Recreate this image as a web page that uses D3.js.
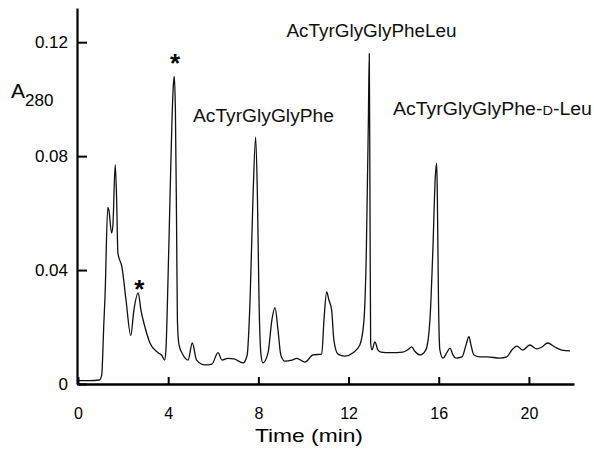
<!DOCTYPE html>
<html>
<head>
<meta charset="utf-8">
<script src="https://cdn.jsdelivr.net/npm/d3@7"></script>
<style>
  html, body { margin: 0; padding: 0; background: #fff; }
  svg { display: block; font-family: "Liberation Sans", Arial, Helvetica, sans-serif; }
</style>
</head>
<body>
<svg id="chart" width="594" height="451"></svg>
<script>
// ---- data ----
const timeMin = [0, 0.5, 0.95, 1.05, 1.15, 1.2, 1.32, 1.37, 1.49, 1.55, 1.65, 1.71, 1.77, 1.95, 2.13, 2.34, 2.48, 2.67, 2.79, 2.97, 3.19, 3.55, 3.72, 3.84, 3.9, 3.99, 4.08, 4.17, 4.23, 4.27, 4.32, 4.37, 4.41, 4.48, 4.66, 4.88, 5.07, 5.26, 5.63, 5.94, 6.21, 6.39, 6.65, 6.92, 7.32, 7.5, 7.63, 7.76, 7.88, 7.96, 8.03, 8.12, 8.2, 8.43, 8.6, 8.74, 8.87, 9.0, 9.18, 9.49, 9.7, 10.07, 10.42, 10.81, 10.91, 11.03, 11.13, 11.25, 11.35, 11.53, 11.84, 12.2, 12.5, 12.68, 12.79, 12.88, 12.92, 12.95, 12.98, 13.04, 13.17, 13.3, 13.44, 13.84, 14.41, 14.63, 14.8, 14.94, 15.17, 15.43, 15.61, 15.74, 15.85, 15.91, 15.94, 15.99, 16.05, 16.19, 16.36, 16.5, 16.63, 16.76, 17.03, 17.21, 17.34, 17.43, 17.56, 17.83, 18.14, 18.71, 19.02, 19.25, 19.47, 19.73, 20.04, 20.35, 20.58, 20.83, 21.15, 21.46, 21.82];
const a280 = [0.0012, 0.0012, 0.0014, 0.003, 0.022, 0.031, 0.062, 0.061, 0.053, 0.056, 0.077, 0.066, 0.046, 0.041, 0.0295, 0.017, 0.026, 0.032, 0.026, 0.020, 0.0144, 0.011, 0.010, 0.0084, 0.012, 0.036, 0.065, 0.093, 0.105, 0.108, 0.096, 0.058, 0.022, 0.0137, 0.0102, 0.0084, 0.0144, 0.0084, 0.0067, 0.007, 0.011, 0.0084, 0.009, 0.0088, 0.0074, 0.010, 0.029, 0.065, 0.0867, 0.065, 0.029, 0.010, 0.0074, 0.011, 0.0225, 0.0268, 0.019, 0.010, 0.008, 0.0084, 0.009, 0.0077, 0.0102, 0.0105, 0.0225, 0.0323, 0.0295, 0.026, 0.0154, 0.0105, 0.0098, 0.011, 0.0137, 0.022, 0.047, 0.093, 0.116, 0.065, 0.0144, 0.012, 0.0148, 0.012, 0.0112, 0.011, 0.0112, 0.012, 0.013, 0.0115, 0.0102, 0.012, 0.0225, 0.047, 0.073, 0.0775, 0.065, 0.029, 0.012, 0.0091, 0.011, 0.0126, 0.0102, 0.0091, 0.0095, 0.0137, 0.0166, 0.0137, 0.0102, 0.0095, 0.0095, 0.0091, 0.0095, 0.012, 0.0133, 0.0119, 0.0137, 0.0123, 0.013, 0.0144, 0.013, 0.0119, 0.0116];

const xTicks = [0, 4, 8, 12, 16, 20];
const yTicks = [0, 0.04, 0.08, 0.12];
const xTitle = "Time (min)";

// peak labels: text, anchor time (left edge) and level (baseline), in data units
const peakLabelParts = [
  [["AcTyrGlyGlyPhe", false]],
  [["AcTyrGlyGlyPheLeu", false]],
  [["AcTyrGlyGlyPhe-", false], ["D", true], ["-Leu", false]]
];
const peakLabelTime = [5.10, 9.25, 13.97];
const peakLabelLevel = [0.092, 0.1218, 0.0945];
const peakLabelWidth = [141, 170, 199];

// asterisks marking impurity peaks
const starTime = [2.72, 4.30];
const starLevel = [0.0302, 0.1096];

// ---- drawing ----
const svg = d3.select("#chart");
const x = d3.scaleLinear().domain([0, 22]).range([78, 574]);
const y = d3.scaleLinear().domain([0, 0.132]).range([384, 8]);

// trace
const line = d3.line()
  .x((d, i) => x(timeMin[i]))
  .y(d => y(d))
  .curve(d3.curveMonotoneX);

svg.append("path")
  .datum(a280)
  .attr("d", line)
  .attr("fill", "none")
  .attr("stroke", "#111")
  .attr("stroke-width", 1.3)
  .attr("stroke-linejoin", "round");

// y axis
const yAxis = d3.axisLeft(y)
  .tickValues(yTicks)
  .tickFormat(d => d === 0 ? "0" : d3.format(".2f")(d))
  .tickSizeInner(-10)
  .tickSizeOuter(0)
  .tickPadding(9);
const gy = svg.append("g").attr("transform", "translate(77,0)").call(yAxis);
gy.select(".domain").attr("stroke", "#000").attr("stroke-width", 2.2);
gy.selectAll(".tick line").attr("stroke", "#000").attr("stroke-width", 2);
gy.selectAll(".tick text").attr("font-size", 17).attr("fill", "#000")
  .attr("font-family", "Liberation Sans, Arial, sans-serif");

// x axis
const xAxis = d3.axisBottom(x)
  .tickValues(xTicks)
  .tickFormat(d3.format("d"))
  .tickSizeInner(-7)
  .tickSizeOuter(0)
  .tickPadding(24);
const gx = svg.append("g").attr("transform", "translate(0,384)").call(xAxis);
gx.select(".domain").attr("stroke", "#000").attr("stroke-width", 2.5);
gx.selectAll(".tick line").attr("stroke", "#000").attr("stroke-width", 2);
gx.selectAll(".tick text").attr("font-size", 16).attr("fill", "#000")
  .attr("font-family", "Liberation Sans, Arial, sans-serif");

// x title
svg.append("text")
  .attr("x", x(7.85))
  .attr("y", 442)
  .attr("font-size", 19)
  .attr("textLength", 108)
  .attr("lengthAdjust", "spacingAndGlyphs")
  .attr("fill", "#000")
  .text(xTitle);

// y title A280
const yt = svg.append("text").attr("x", 11).attr("y", 98).attr("fill", "#000");
yt.append("tspan").attr("font-size", 21).text("A");
yt.append("tspan").attr("font-size", 17).attr("dy", 8).attr("dx", 0).text("280");

// peak labels
peakLabelParts.forEach((parts, i) => {
  const t = svg.append("text")
    .attr("x", x(peakLabelTime[i]))
    .attr("y", y(peakLabelLevel[i]))
    .attr("font-size", 17.5)
    .attr("fill", "#111")
    .attr("textLength", peakLabelWidth[i])
    .attr("lengthAdjust", "spacingAndGlyphs");
  parts.forEach(([s, small]) => {
    t.append("tspan").attr("font-size", small ? 13 : 17.5).text(s);
  });
});

// asterisks
starTime.forEach((tm, i) => {
  svg.append("text")
    .attr("x", x(tm))
    .attr("y", y(starLevel[i]))
    .attr("text-anchor", "middle")
    .attr("font-size", 26)
    .attr("font-weight", "bold")
    .attr("fill", "#000")
    .text("*");
});
</script>
</body>
</html>
